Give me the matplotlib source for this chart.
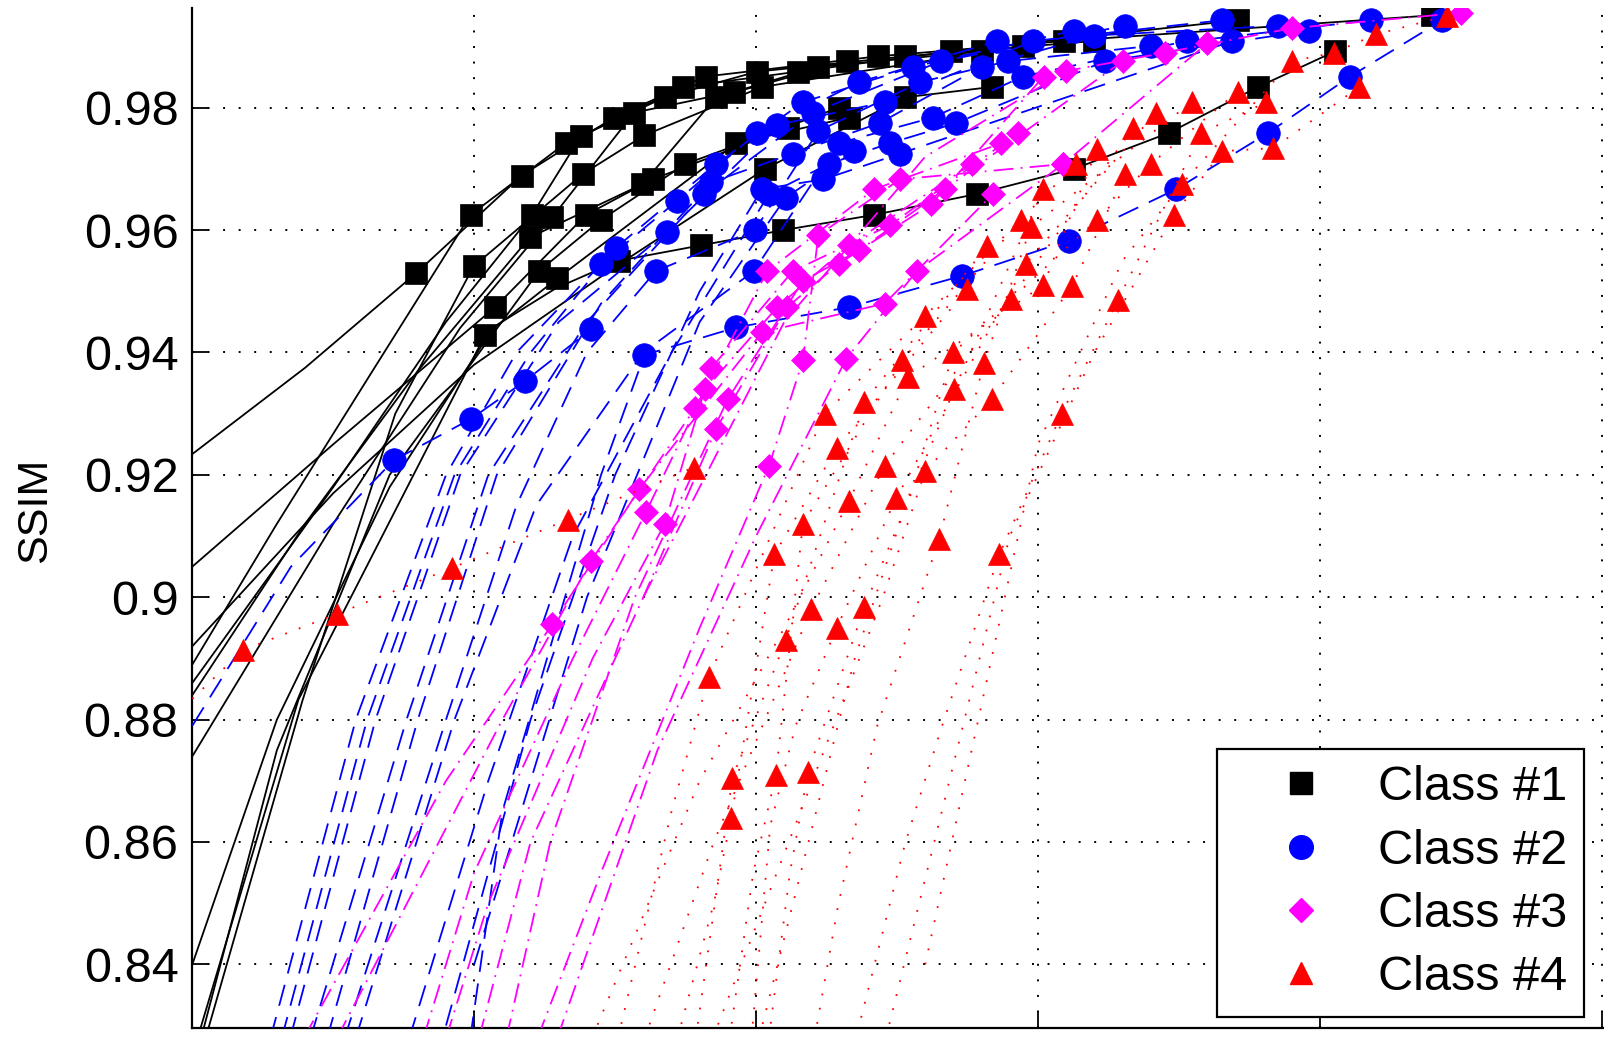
import matplotlib.pyplot as plt
from matplotlib.lines import Line2D

plt.rcParams['font.family'] = ['Liberation Sans', 'DejaVu Sans']

# rate points of each curve (x: rate, y: SSIM), one list per curve
c1_x = [[0.795, 1.168, 1.495, 1.821, 2.431, 3.091, 4.398],
        [0.987, 1.324, 1.676, 2.003, 2.529, 3.200],
        [1.205, 1.379, 1.742, 2.148, 2.692, 3.708],
        [1.277, 1.567, 1.923, 2.221, 2.801],
        [0.998, 1.386, 1.604, 2.021, 2.946],
        [1.197, 1.597, 1.858, 2.322],
        [1.074, 1.397, 1.633, 2.112],
        [1.230, 1.451, 1.749, 2.293],
        [1.038, 1.295, 1.930, 2.329],
        [2.032, 2.529, 2.837],
        [1.513, 1.803, 2.097, 2.420, 2.783, 3.128, 3.465, 3.781, 4.053]]
c1_y = [[0.9530, 0.9689, 0.9784, 0.9851, 0.9884, 0.9909, 0.9951],
        [0.9625, 0.9742, 0.9817, 0.9859, 0.9884, 0.9909],
        [0.9625, 0.9754, 0.9834, 0.9859, 0.9892, 0.9943],
        [0.9621, 0.9792, 0.9826, 0.9867, 0.9892],
        [0.9541, 0.9692, 0.9755, 0.9834, 0.9901],
        [0.9588, 0.9675, 0.9817, 0.9876],
        [0.9474, 0.9625, 0.9683, 0.9767],
        [0.9533, 0.9617, 0.9708, 0.9800],
        [0.9428, 0.9521, 0.9742, 0.9784],
        [0.9700, 0.9817, 0.9834],
        [0.9550, 0.9575, 0.9600, 0.9625, 0.9659, 0.9700, 0.9759, 0.9834, 0.9892]]
# fitted curve below the first rate point
c1_tx = [[0.0, 0.4], [0.0, 0.3, 0.63], [0.0, 0.5, 0.9], [0.0, 0.5, 0.95],
         [0.035, 0.39, 0.72], [0.0, 0.4, 0.8], [0.0, 0.5], [0.02, 0.3, 0.7],
         [0.006, 0.376], [0.0, 0.5, 1.0, 1.5], [0.0, 0.3, 0.7, 1.07, 1.29]]
c1_ty = [[0.9234, 0.9375], [0.889, 0.912, 0.9363], [0.886, 0.918, 0.945],
         [0.874, 0.912, 0.944], [0.826, 0.883, 0.930], [0.884, 0.912, 0.937],
         [0.905, 0.925], [0.826, 0.875, 0.920], [0.826, 0.8832],
         [0.892, 0.917, 0.938, 0.954], [0.840, 0.880, 0.918, 0.9442, 0.9505]]

c2_x = [[0.715, 0.987, 1.179, 1.415],
        [1.604, 1.930, 2.329, 2.729, 3.110, 3.491, 3.817, 4.107, 4.434],
        [1.451, 1.720, 2.003, 2.366, 2.856],
        [1.502, 1.858, 2.166, 2.558, 3.128],
        [1.684, 2.075, 2.456, 2.983, 3.654],
        [1.814, 2.202, 2.656, 3.309],
        [1.840, 2.130, 2.438, 2.801, 3.200, 3.853],
        [1.644, 1.996, 2.221, 2.583, 2.892, 3.400, 4.180],
        [1.992, 2.293, 2.627, 2.946, 3.527],
        [2.046, 2.257, 2.475, 2.710, 3.237, 3.962],
        [2.021, 2.239, 2.511, 3.690],
        [2.105, 2.348]]
c2_y = [[0.9224, 0.9291, 0.9353, 0.9438],
        [0.9396, 0.9441, 0.9474, 0.9525, 0.9583, 0.9667, 0.9759, 0.9851, 0.9943],
        [0.9545, 0.9648, 0.9759, 0.9842, 0.9909],
        [0.9571, 0.9708, 0.9809, 0.9867, 0.9926],
        [0.9597, 0.9772, 0.9809, 0.9909, 0.9943],
        [0.9659, 0.9792, 0.9876, 0.9934],
        [0.9678, 0.9725, 0.9775, 0.9867, 0.9918, 0.9934],
        [0.9533, 0.9600, 0.9762, 0.9842, 0.9876, 0.9901, 0.9943],
        [0.9533, 0.9742, 0.9784, 0.9851, 0.9909],
        [0.9659, 0.9708, 0.9742, 0.9775, 0.9876, 0.9926],
        [0.9667, 0.9683, 0.9725, 0.9909],
        [0.9653, 0.9729]]
c2_tx = [[0.0, 0.35], [0.98, 1.1, 1.29, 1.45], [0.26, 0.58, 0.90, 1.15],
         [0.30, 0.62, 0.93, 1.2], [0.33, 0.65, 0.95, 1.3], [0.40, 0.76, 1.05, 1.4],
         [0.46, 0.80, 1.08, 1.45], [0.52, 0.90, 1.15, 1.4], [0.56, 0.93, 1.22, 1.6],
         [0.75, 1.05, 1.35, 1.7], [0.9, 1.2, 1.5, 1.8], [1.0, 1.4, 1.8]]
c2_ty = [[0.879, 0.905], [0.826, 0.865, 0.895, 0.920], [0.825, 0.88, 0.92, 0.94],
         [0.825, 0.88, 0.92, 0.94], [0.825, 0.88, 0.92, 0.945], [0.825, 0.88, 0.92, 0.945],
         [0.825, 0.88, 0.92, 0.948], [0.825, 0.88, 0.915, 0.94], [0.825, 0.88, 0.915, 0.94],
         [0.825, 0.87, 0.91, 0.94], [0.83, 0.88, 0.92, 0.95], [0.84, 0.90, 0.945]]

c3_x = [[1.277, 1.586, 2.021, 2.456, 2.840],
        [1.415, 1.785, 2.040, 2.420, 2.870],
        [1.610, 1.820, 2.075, 2.329, 2.765],
        [1.676, 1.840, 2.130, 2.475, 2.930],
        [1.858, 2.110, 2.293, 2.620, 3.020],
        [1.900, 2.166, 2.366, 2.670, 3.300],
        [2.046, 2.166, 2.221, 2.511, 3.090],
        [2.320, 2.570, 3.090, 3.600],
        [3.100, 3.450, 3.900, 4.500]]
c3_y = [[0.8956, 0.9177, 0.9433, 0.9480, 0.9659],
        [0.9060, 0.9310, 0.9533, 0.9667, 0.9742],
        [0.9140, 0.9340, 0.9474, 0.9575, 0.9708],
        [0.9120, 0.9374, 0.9533, 0.9608, 0.9759],
        [0.9275, 0.9474, 0.9545, 0.9642, 0.9851],
        [0.9324, 0.9517, 0.9567, 0.9667, 0.9876],
        [0.9215, 0.9387, 0.9592, 0.9683, 0.9708],
        [0.9390, 0.9533, 0.9708, 0.9905],
        [0.9860, 0.9890, 0.9930, 0.9955]]
c3_tx = [[0.36, 0.9], [0.48, 1.1], [0.8, 1.0, 1.35], [0.88, 1.05, 1.42],
         [1.0, 1.2, 1.6], [1.1, 1.27, 1.57], [1.2, 1.45, 1.8], [1.28, 1.65, 2.0],
         [1.6, 2.1, 2.6]]
c3_ty = [[0.825, 0.870], [0.825, 0.880], [0.825, 0.855, 0.890], [0.825, 0.850, 0.890],
         [0.825, 0.860, 0.900], [0.825, 0.860, 0.900], [0.825, 0.855, 0.895],
         [0.826, 0.875, 0.910], [0.900, 0.945, 0.972]]

c4_x = [[0.181, 0.515, 0.922, 1.332, 1.778],
        [1.912, 2.065, 2.286, 2.747],
        [1.916, 2.105, 2.384, 2.819],
        [2.070, 2.166, 2.518, 2.939],
        [2.184, 2.384, 2.703, 3.019],
        [1.832, 2.243, 2.600, 3.135],
        [2.195, 2.456, 2.903, 3.338],
        [2.286, 2.497, 2.957, 3.418],
        [2.649, 2.808, 2.975, 3.545],
        [2.863, 3.084, 3.284, 3.580, 3.810],
        [2.329, 2.540, 3.019, 3.210],
        [2.600, 2.837, 3.120, 3.310],
        [2.700, 3.210, 3.400, 3.708],
        [3.483, 3.654, 3.835, 4.140],
        [3.510, 3.900, 4.050, 4.200, 4.450]]
c4_y = [[0.8914, 0.8973, 0.9048, 0.9127, 0.9212],
        [0.8640, 0.9070, 0.9244, 0.9503],
        [0.8705, 0.8930, 0.9319, 0.9574],
        [0.8709, 0.9120, 0.9387, 0.9617],
        [0.8714, 0.8984, 0.9340, 0.9667],
        [0.8870, 0.9300, 0.9460, 0.9708],
        [0.8980, 0.9215, 0.9488, 0.9767],
        [0.8950, 0.9162, 0.9545, 0.9792],
        [0.9095, 0.9383, 0.9605, 0.9809],
        [0.9070, 0.9300, 0.9486, 0.9759, 0.9809],
        [0.9157, 0.9360, 0.9510, 0.9733],
        [0.9206, 0.9324, 0.9508, 0.9692],
        [0.9400, 0.9617, 0.9708, 0.9826],
        [0.9625, 0.9729, 0.9734, 0.9834],
        [0.9675, 0.9876, 0.9890, 0.9920, 0.9950]]
c4_tx = [[0.0], [1.71, 1.85], [1.78, 1.86], [1.90, 1.99], [2.04, 2.12], [1.50, 1.70],
         [1.59, 1.85, 2.05], [1.98, 2.05, 2.14], [2.20, 2.29, 2.43], [2.36, 2.53, 2.66],
         [1.40, 1.8, 2.1], [1.83, 2.2, 2.45], [2.0, 2.35, 2.56], [2.45, 2.9, 3.2],
         [2.6, 3.0, 3.3]]
c4_ty = [[0.8834], [0.826, 0.850], [0.826, 0.852], [0.826, 0.855], [0.826, 0.855],
         [0.826, 0.865], [0.826, 0.860, 0.882], [0.826, 0.8626, 0.879],
         [0.826, 0.8494, 0.879], [0.829, 0.860, 0.879], [0.826, 0.870, 0.895],
         [0.826, 0.870, 0.900], [0.826, 0.890, 0.919], [0.826, 0.910, 0.940],
         [0.840, 0.925, 0.955]]

labels = ['Class #1', 'Class #2', 'Class #3', 'Class #4']

fig = plt.figure(figsize=(16.04, 10.37), dpi=100)
ax = fig.add_axes([0.1199, 0.00868, 0.8801, 0.98361])

classes = [
    (c1_x, c1_y, c1_tx, c1_ty, dict(color='k', marker='s', ms=16, ls='-')),
    (c2_x, c2_y, c2_tx, c2_ty, dict(color='#0000ff', marker='o', ms=17, ls=(0, (12, 6.5)))),
    (c3_x, c3_y, c3_tx, c3_ty, dict(color='#ff00ff', marker='D', ms=12, ls=(0, (11, 4, 1, 4)))),
    (c4_x, c4_y, c4_tx, c4_ty, dict(color='#ff0000', marker='^', ms=16.5, ls=(0, (1, 7)))),
]

z = 3
for xs, ys, txs, tys, st in classes:
    for mx, my, tx, ty in zip(xs, ys, txs, tys):
        ax.plot(tx + mx, ty + my, color=st['color'], lw=1.3, ls=st['ls'], zorder=z)
        ax.plot(mx, my, ls='none', marker=st['marker'], ms=st['ms'],
                color=st['color'], mec=st['color'], mew=0.5, zorder=z + 0.5)
    z += 1

ax.set_xlim(0, 5.008)
ax.set_ylim(0.8296, 0.9963)
ax.set_xticks([0, 1, 2, 3, 4, 5])
ax.set_xticklabels([])
ax.set_yticks([0.84, 0.86, 0.88, 0.9, 0.92, 0.94, 0.96, 0.98])
ax.set_yticklabels(['0.84', '0.86', '0.88', '0.9', '0.92', '0.94', '0.96', '0.98'])
ax.tick_params(direction='in', length=12, width=1.3, labelsize=35, pad=10, colors='k')
ax.grid(True, color='k', lw=1.4, ls=(0, (1, 7)))
ax.set_axisbelow(True)
for side in ['top', 'right']:
    ax.spines[side].set_visible(False)
for side in ['left', 'bottom']:
    ax.spines[side].set_linewidth(1.6)

ax.set_ylabel('SSIM', fontsize=31)
ax.yaxis.set_label_coords(-0.097, 0.507)

handles = [Line2D([], [], ls='none', marker=st['marker'], ms=st['ms'],
                  color=st['color'], mec=st['color'])
           for _, _, _, _, st in classes]
leg = ax.legend(handles, labels, loc='upper left',
                bbox_to_anchor=(1217 / 1604, 1 - 749 / 1037),
                bbox_transform=fig.transFigure, fontsize=35, frameon=True,
                fancybox=False, framealpha=1, edgecolor='k', borderpad=0.33,
                labelspacing=0.38, handlelength=2.8, handletextpad=0.19,
                borderaxespad=0)
leg.get_frame().set_linewidth(1.6)
leg.set_zorder(20)

fig.savefig('out.png', dpi=100)
